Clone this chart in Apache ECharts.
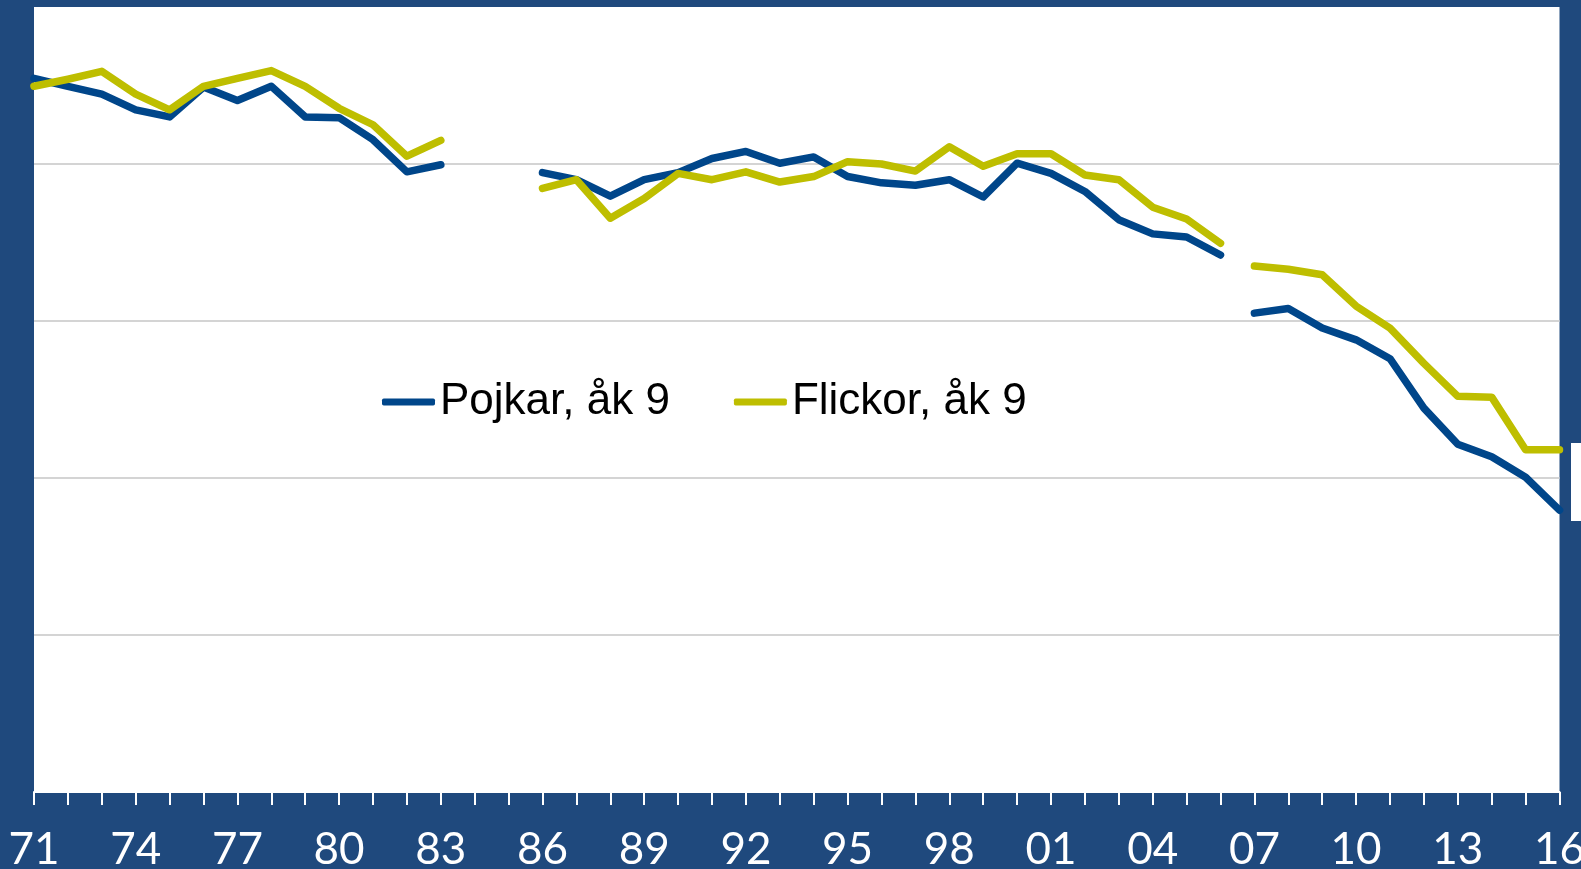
<!DOCTYPE html>
<html>
<head>
<meta charset="utf-8">
<script src="https://cdn.jsdelivr.net/npm/echarts@6/dist/echarts.min.js"></script>
<style>
  html, body { margin: 0; padding: 0; background: #1F497D; }
  #chart { width: 1581px; height: 869px; }
</style>
</head>
<body>
<div id="chart"></div>
<script>
const years = ['71', '72', '73', '74', '75', '76', '77', '78', '79', '80',
  '81', '82', '83', '84', '85', '86', '87', '88', '89', '90',
  '91', '92', '93', '94', '95', '96', '97', '98', '99', '00',
  '01', '02', '03', '04', '05', '06', '07', '08', '09', '10',
  '11', '12', '13', '14', '15', '16'];

const pojkar = [90.9, 89.9, 88.9, 86.9, 86.0, 89.8, 88.1, 89.9, 86.0, 85.9,
  83.1, 79.0, 79.9, null, null, 78.9, 78.0, 75.9, 78.0, 78.9,
  80.7, 81.6, 80.1, 80.9, 78.4, 77.6, 77.3, 78.0, 75.8, 80.1,
  78.8, 76.5, 72.9, 71.1, 70.7, 68.4, 61.0, 61.6, 59.1, 57.6,
  55.2, 48.9, 44.3, 42.7, 40.1, 35.9];

const flickor = [89.9, 90.8, 91.8, 88.9, 86.9, 89.9, 90.9, 91.9, 89.9, 87.1,
  85.0, 81.0, 83.0, null, null, 76.9, 78.0, 73.1, 75.6, 78.8,
  78.0, 79.0, 77.7, 78.4, 80.3, 80.0, 79.1, 82.2, 79.7, 81.3,
  81.3, 78.6, 78.0, 74.5, 73.0, 69.9, 67.0, 66.6, 65.9, 61.9,
  59.1, 54.6, 50.4, 50.3, 43.6, 43.6];

// the line breaks between 06 and 07 (new method from 07)
const breakYear = '07';

const theme = {
  bg: '#1F497D',
  boys: '#00468A',
  girls: '#BEBE00',
  grid: '#D4D4D4'
};

const chart = echarts.init(document.getElementById('chart'));

const cut = years.indexOf(breakYear);
const before = arr => arr.map((v, i) => (i < cut ? v : null));
const after = arr => arr.map((v, i) => (i >= cut ? v : null));

const makeSeries = (name, color, data) => ({
  name: name,
  type: 'line',
  data: data,
  symbol: 'none',
  connectNulls: false,
  lineStyle: { color: color, width: 7.5, cap: 'round', join: 'round' },
  itemStyle: { color: color },
  emphasis: { disabled: true },
  animation: false
});

chart.setOption({
  backgroundColor: theme.bg,
  animation: false,
  grid: {
    left: 34, right: 21.5, top: 7, bottom: 77,
    outerBoundsMode: 'none',
    containLabel: false,
    show: true, backgroundColor: '#fff', borderWidth: 0
  },
  legend: {
    data: ['Pojkar, åk 9', 'Flickor, åk 9'],
    left: 377,
    top: 375,
    icon: 'roundRect',
    itemWidth: 53,
    itemHeight: 7,
    itemGap: 64,
    itemStyle: { borderWidth: 0 },
    textStyle: { color: '#000', fontSize: 44, fontFamily: 'Liberation Sans' }
  },
  xAxis: {
    type: 'category',
    data: years,
    boundaryGap: false,
    axisLine: { show: true, lineStyle: { color: '#fff', width: 2 } },
    axisTick: { show: true, interval: 0, length: 13, lineStyle: { color: '#fff', width: 2 } },
    axisLabel: {
      interval: 2, color: '#fff', fontSize: 44, fontFamily: 'Lato', margin: 36
    },
    splitLine: { show: false }
  },
  yAxis: {
    type: 'value',
    min: 0,
    max: 100,
    interval: 20,
    axisLine: { show: false },
    axisTick: { show: false },
    axisLabel: { show: false },
    splitLine: {
      show: true, showMaxLine: false, showMinLine: false,
      lineStyle: { color: theme.grid, width: 2 }
    }
  },
  series: [
    makeSeries('Pojkar, åk 9', theme.boys, before(pojkar)),
    makeSeries('Pojkar, åk 9', theme.boys, after(pojkar)),
    makeSeries('Flickor, åk 9', theme.girls, before(flickor)),
    makeSeries('Flickor, åk 9', theme.girls, after(flickor))
  ],
  graphic: [
    {
      type: 'rect',
      shape: { x: 1571, y: 443, width: 20, height: 78 },
      style: { fill: '#fff' }
    }
  ]
});
</script>
</body>
</html>
